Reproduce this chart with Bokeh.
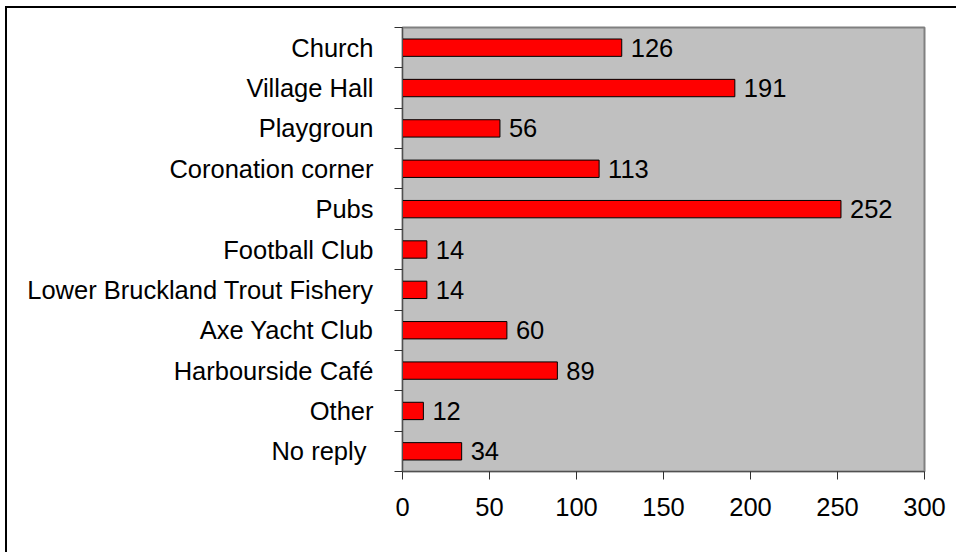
from bokeh.plotting import figure
from bokeh.models import (Range1d, LinearAxis, FixedTicker, ColumnDataSource)
from bokeh.embed import file_html
from bokeh.resources import INLINE
from bokeh.core.properties import value

categories = ["Church", "Village Hall", "Playgroun", "Coronation corner", "Pubs",
              "Football Club", "Lower Bruckland Trout Fishery", "Axe Yacht Club",
              "Harbourside Café", "Other", "No reply "]
counts = [126, 191, 56, 113, 252, 14, 14, 60, 89, 12, 34]
x_ticks = [0, 50, 100, 150, 200, 250, 300]

FONT = "Liberation Sans"
FS = "25.5px"

n = len(categories)
ypos = [n - i - 0.5 for i in range(n)]  # category slot centres, top to bottom
bounds = list(range(n + 1))             # slot boundaries (tick marks)

src = ColumnDataSource(dict(y=ypos, val=counts, lbl=[str(v) for v in counts]))

p = figure(width=956, height=552, output_backend="svg", toolbar_location=None,
           y_range=Range1d(0, n), x_range=Range1d(0, 300), y_axis_location=None,
           min_border_left=402, min_border_right=32, min_border_top=27,
           min_border_bottom=81)

p.background_fill_color = "#C0C0C0"
p.border_fill_color = None
p.outline_line_color = "#808080"
p.outline_line_width = 2
p.xgrid.visible = False
p.ygrid.visible = False
p.styles = {
    "background": ("linear-gradient(#000,#000) 5px 6px / 2px 100% no-repeat, "
                   "linear-gradient(#000,#000) 5px 6px / 100% 2px no-repeat, #ffffff")
}

p.hbar(y="y", right="val", left=0, height=0.43, fill_color="#FF0000",
       line_color="black", line_width=1, source=src)
p.text(x="val", y="y", text="lbl", x_offset=9, text_baseline="middle",
       text_align="left", text_font=value(FONT), text_font_size=FS,
       text_color="black", source=src)

# x axis
xa = p.xaxis[0]
xa.ticker = FixedTicker(ticks=x_ticks)
xa.major_tick_out = 8
xa.major_tick_in = 0
xa.minor_tick_line_color = None
xa.axis_line_color = "#505050"
xa.axis_line_width = 1
xa.major_tick_line_color = "#303030"
xa.major_label_text_font = FONT
xa.major_label_text_font_size = FS
xa.major_label_text_color = "black"
xa.major_label_standoff = 18

# y axis: labels at slot centres, tick marks at slot boundaries
ya = LinearAxis(ticker=FixedTicker(ticks=ypos, minor_ticks=bounds),
                major_label_overrides={y: c for y, c in zip(ypos, categories)},
                axis_line_color="#505050", major_tick_line_color=None,
                major_tick_out=0, major_tick_in=0,
                minor_tick_line_color="#303030", minor_tick_out=8,
                minor_tick_in=0,
                major_label_text_font=FONT, major_label_text_font_size=FS,
                major_label_text_color="black", major_label_standoff=21)
p.add_layout(ya, "left")

open("out.html", "w").write(file_html(p, INLINE))
